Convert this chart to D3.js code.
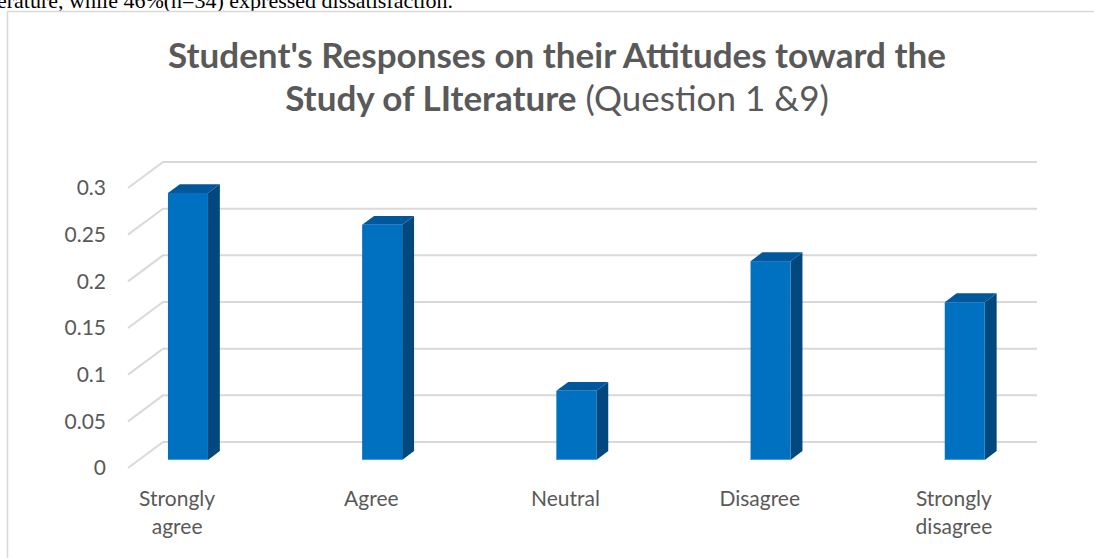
<!DOCTYPE html>
<html>
<head>
<meta charset="utf-8">
<script src="https://cdn.jsdelivr.net/npm/d3@7"></script>
<style>
  html, body { margin: 0; padding: 0; background: #fff; overflow: hidden; }
  svg { display: block; }
</style>
</head>
<body>
<svg id="chart" width="1094" height="558"></svg>
<script>
// ---- data ----
const categories = ["Strongly agree", "Agree", "Neutral", "Disagree", "Strongly disagree"];
const categoryLines = [["Strongly", "agree"], ["Agree"], ["Neutral"], ["Disagree"], ["Strongly", "disagree"]];
const values = [0.286, 0.252, 0.074, 0.213, 0.169];
const yTicks = [0, 0.05, 0.1, 0.15, 0.2, 0.25, 0.3];
const tickLabels = ["0", "0.05", "0.1", "0.15", "0.2", "0.25", "0.3"];
const titleLine1 = "Student's Responses on their Attitudes toward the";
const titleLine2Bold = "Study of LIterature";
const titleLine2Normal = " (Question 1 &9)";
const headerText = "erature, while 46%(n=34) expressed dissatisfaction.";

// ---- layout ----
const svg = d3.select("#chart");
const DX = 35, DY = -26;          // floor depth projection
const barF0 = 0.31, barF1 = 0.65; // bar depth fraction
const barW = 40;
const axisX = 128, gridRight = 1037;

const y = d3.scaleLinear().domain([0, 0.3]).range([468, 188]);
const x = d3.scaleBand().domain(categories).range([80, 1051]);

// header text (cut-off paragraph above the chart, as in the reference)
svg.append("text")
  .attr("x", -3).attr("y", 8)
  .attr("font-family", "Liberation Serif, Times New Roman, serif")
  .attr("font-size", 22).attr("fill", "#000")
  .text(headerText);

// chart border
svg.append("rect")
  .attr("x", 7.5).attr("y", 11.5).attr("width", 1200).attr("height", 700)
  .attr("fill", "#fff").attr("stroke", "#d9d9d9").attr("stroke-width", 1.5);

// title
const titleColor = "#595959";
const t1 = svg.append("text")
  .attr("x", 557).attr("y", 68).attr("text-anchor", "middle")
  .attr("font-family", "Lato, sans-serif").attr("font-weight", "bold")
  .attr("font-size", 33).attr("fill", titleColor)
  .text(titleLine1);
// fit to reference width
let w1 = t1.node().getComputedTextLength();
const fs = 33 * 778 / w1;
t1.attr("font-size", fs);

const t2 = svg.append("text")
  .attr("x", 557).attr("y", 111).attr("text-anchor", "middle")
  .attr("font-family", "Lato, sans-serif")
  .attr("font-size", fs).attr("fill", titleColor);
t2.append("tspan").attr("font-weight", "bold").text(titleLine2Bold);
t2.append("tspan").attr("font-weight", "normal").text(titleLine2Normal);

// gridlines (floor diagonal + back wall)
const grid = svg.append("g").attr("stroke", "#d9d9d9").attr("stroke-width", 2).attr("fill", "none");
yTicks.forEach(t => {
  grid.append("path")
    .attr("d", `M${axisX},${y(t)} L${axisX + DX},${y(t) + DY} L${gridRight},${y(t) + DY}`);
});

// tick labels
svg.append("g").selectAll("text").data(yTicks).join("text")
  .attr("x", 106).attr("y", d => y(d))
  .attr("dy", "0.35em").attr("text-anchor", "end")
  .attr("font-family", "Lato, sans-serif").attr("font-size", 21).attr("fill", titleColor)
  .text((d, i) => tickLabels[i]);

// bars (3D)
const ox0 = DX * barF0, oy0 = DY * barF0;
const ox1 = DX * barF1, oy1 = DY * barF1;
const sdx = ox1 - ox0, sdy = oy1 - oy0;
const bars = svg.append("g");
categories.forEach((c, i) => {
  const cx = x(c) + x.bandwidth() / 2 + ox0;
  const x0 = cx - barW / 2, x1 = cx + barW / 2;
  const yb = y(0) + oy0, yt = y(values[i]) + oy0;
  // side
  bars.append("path")
    .attr("d", `M${x1},${yt} L${x1 + sdx},${yt + sdy} L${x1 + sdx},${yb + sdy} L${x1},${yb} Z`)
    .attr("fill", "#00487d");
  // top
  bars.append("path")
    .attr("d", `M${x0},${yt} L${x1},${yt} L${x1 + sdx},${yt + sdy} L${x0 + sdx},${yt + sdy} Z`)
    .attr("fill", "#00589a");
  // front
  bars.append("rect")
    .attr("x", x0).attr("y", yt).attr("width", barW).attr("height", yb - yt)
    .attr("fill", "#0070c0");
  bars.append("line")
    .attr("x1", x0).attr("x2", x1).attr("y1", yb - 0.5).attr("y2", yb - 0.5)
    .attr("stroke", "#4a9ee0").attr("stroke-width", 1);
});

// category labels
const cl = svg.append("g");
categories.forEach((c, i) => {
  const tx = cl.append("text")
    .attr("x", x(c) + x.bandwidth() / 2).attr("y", 506)
    .attr("text-anchor", "middle")
    .attr("font-family", "Lato, sans-serif").attr("font-size", 21).attr("fill", titleColor);
  categoryLines[i].forEach((ln, j) => {
    tx.append("tspan").attr("x", x(c) + x.bandwidth() / 2).attr("dy", j === 0 ? 0 : 28).text(ln);
  });
});
</script>
</body>
</html>
